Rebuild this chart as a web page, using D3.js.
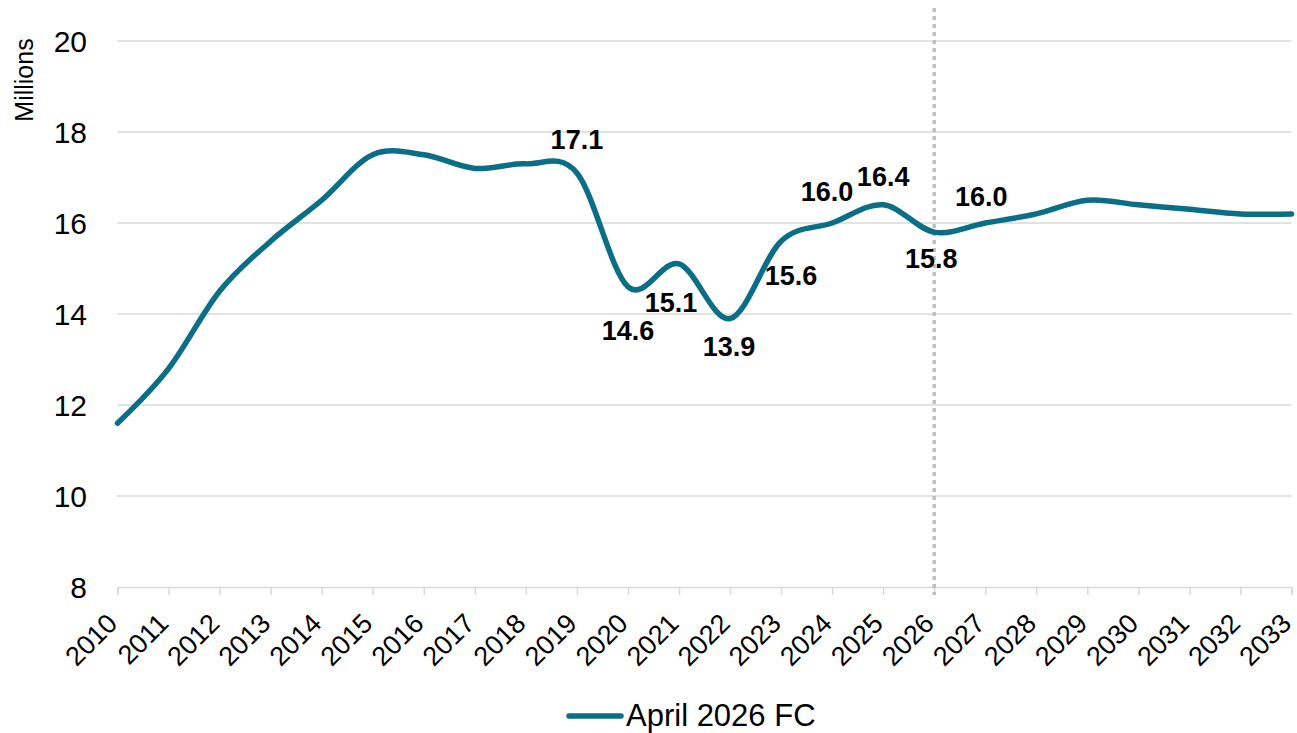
<!DOCTYPE html>
<html><head><meta charset="utf-8">
<script src="https://cdn.jsdelivr.net/npm/d3@7"></script>
<style>body{margin:0;background:#fff;} svg{display:block;font-family:"Liberation Sans",Arial,sans-serif;}</style>
</head><body>
<svg id="c" width="1297" height="733"></svg>
<script>
const years = ["2010","2011","2012","2013","2014","2015","2016","2017","2018","2019","2020","2021","2022","2023","2024","2025","2026","2027","2028","2029","2030","2031","2032","2033"];
const values = [11.6,12.8,14.5,15.6,16.5,17.5,17.5,17.2,17.3,17.1,14.6,15.1,13.9,15.6,16.0,16.4,15.8,16.0,16.2,16.5,16.4,16.3,16.2,16.2];
const yTicks = [8,10,12,14,16,18,20];
const labelled = [
  {year:"2019", dx:0, dy:-24},
  {year:"2020", dx:0, dy:53},
  {year:"2021", dx:-8, dy:48},
  {year:"2022", dx:-1, dy:37},
  {year:"2023", dx:10, dy:44},
  {year:"2024", dx:-5, dy:-22},
  {year:"2025", dx:0, dy:-19},
  {year:"2026", dx:-3, dy:36},
  {year:"2027", dx:-4, dy:-17}
];
const seriesName = "April 2026 FC";
const forecastStart = "2026";

const svg = d3.select("#c");
const x = d3.scalePoint().domain(years).range([117.5, 1291.5]);
const y = d3.scaleLinear().domain([8,20]).range([587, 41]);

// gridlines
svg.append("g").selectAll("line").data(yTicks.filter(t=>t>8)).join("line")
  .attr("x1",117.5).attr("x2",1291.5).attr("y1",d=>y(d)).attr("y2",d=>y(d))
  .attr("stroke","#d9d9d9").attr("stroke-width",1.5);

// y axis labels
svg.append("g").selectAll("text").data(yTicks).join("text")
  .attr("x",87).attr("y",d=>y(d)).attr("dy","0.36em").attr("text-anchor","end")
  .attr("font-size",30).attr("fill","#000").text(d=>d);

// y title
svg.append("text").attr("transform","translate(33,80) rotate(-90)")
  .attr("text-anchor","middle").attr("font-size",25).text("Millions");

// x axis
const xa = svg.append("g").attr("transform","translate(0,587)")
  .call(d3.axisBottom(x).tickSize(8).tickPadding(10));
xa.select(".domain").attr("stroke","#d9d9d9").attr("stroke-width",1.5);
xa.selectAll(".tick line").attr("stroke","#d9d9d9").attr("stroke-width",1.5);
xa.selectAll(".tick text").attr("font-size",27).attr("fill","#000")
  .attr("font-family","'Liberation Sans',Arial,sans-serif")
  .attr("text-anchor","end").attr("x",0).attr("y",0).attr("dy","0")
  .attr("transform","translate(1,38) rotate(-45)");

// forecast dotted line
svg.append("line").attr("x1",x(forecastStart)).attr("x2",x(forecastStart))
  .attr("y1",8).attr("y2",595).attr("stroke","#bfbfbf").attr("stroke-width",3.5)
  .attr("stroke-dasharray","4,4");

// line
const line = d3.line().x((d,i)=>x(years[i])).y(d=>y(d)).curve(d3.curveCardinal.tension(0));
svg.append("path").datum(values).attr("d",line).attr("fill","none")
  .attr("stroke","#0b6e87").attr("stroke-width",5.5).attr("stroke-linecap","round");

// data labels
svg.append("g").selectAll("text").data(labelled).join("text")
  .attr("x",d=>x(d.year)+d.dx).attr("y",d=>y(values[years.indexOf(d.year)])+d.dy)
  .attr("text-anchor","middle").attr("font-size",27).attr("font-weight","bold")
  .text(d=>values[years.indexOf(d.year)].toFixed(1));

// legend
svg.append("line").attr("x1",569).attr("x2",621).attr("y1",716).attr("y2",716)
  .attr("stroke","#0b6e87").attr("stroke-width",5.5).attr("stroke-linecap","round");
svg.append("text").attr("x",626).attr("y",726).attr("font-size",31).text(seriesName);
</script>
</body></html>
